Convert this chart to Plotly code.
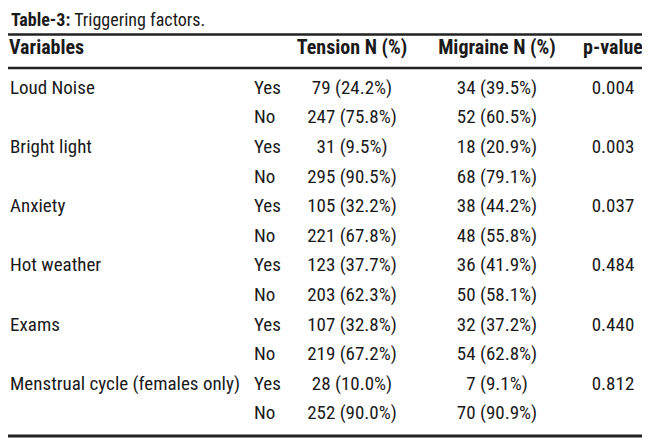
import plotly.graph_objects as go

# Table-3: Triggering factors
variables = ["Loud Noise", "Bright light", "Anxiety", "Hot weather", "Exams",
             "Menstrual cycle (females only)"]
answers = ["Yes", "No"]

tension_yes_n = [79, 31, 105, 123, 107, 28]
tension_yes_pct = [24.2, 9.5, 32.2, 37.7, 32.8, 10.0]
tension_no_n = [247, 295, 221, 203, 219, 252]
tension_no_pct = [75.8, 90.5, 67.8, 62.3, 67.2, 90.0]

migraine_yes_n = [34, 18, 38, 36, 32, 7]
migraine_yes_pct = [39.5, 20.9, 44.2, 41.9, 37.2, 9.1]
migraine_no_n = [52, 68, 48, 50, 54, 70]
migraine_no_pct = [60.5, 79.1, 55.8, 58.1, 62.8, 90.9]

p_values = ["0.004", "0.003", "0.037", "0.484", "0.440", "0.812"]

headers = ["Variables", "Tension N (%)", "Migraine N (%)", "p-value"]

FONT = "Roboto Condensed, DejaVu Sans Condensed, sans-serif"
FS = 19
COL = "#1a1a1a"

# layout in pixel units of the picture
col_var, col_ans, col_ten, col_mig, col_p = 10, 254, 352, 497, 613
header_y = 49
row0, row_step = 89, 29.6


def cell(n, p):
    return "%d (%.1f%%)" % (n, p)


var_txt, ans_txt, ten_txt, mig_txt, p_txt, ys = [], [], [], [], [], []
for i, v in enumerate(variables):
    y_yes = row0 + row_step * 2 * i
    y_no = y_yes + row_step
    ys += [y_yes, y_no]
    var_txt += [v, ""]
    ans_txt += answers
    ten_txt += [cell(tension_yes_n[i], tension_yes_pct[i]),
                cell(tension_no_n[i], tension_no_pct[i])]
    mig_txt += [cell(migraine_yes_n[i], migraine_yes_pct[i]),
                cell(migraine_no_n[i], migraine_no_pct[i])]
    p_txt += [p_values[i], ""]

fig = go.Figure()


def add_col(x, texts, ypos, pos):
    fig.add_trace(go.Scatter(
        x=[x] * len(texts), y=ypos, text=texts, mode="text",
        textposition=pos, textfont=dict(family=FONT, size=FS, color=COL),
        cliponaxis=False, hoverinfo="skip", showlegend=False))


add_col(col_var, var_txt, ys, "middle right")
add_col(col_ans, ans_txt, ys, "middle right")
add_col(col_ten, ten_txt, ys, "middle center")
add_col(col_mig, mig_txt, ys, "middle center")
add_col(col_p, p_txt, ys, "middle center")

# header row
fig.add_trace(go.Scatter(
    x=[col_var - 1, col_ten, col_mig, col_p], y=[header_y] * 4,
    text=["<b>%s</b>" % h for h in headers], mode="text",
    textposition=["middle right", "middle center", "middle center", "middle center"],
    textfont=dict(family=FONT, size=20, color=COL),
    cliponaxis=False, hoverinfo="skip", showlegend=False))

# rules
for y, w in [(34.5, 2.5), (68, 2.5), (436, 3)]:
    fig.add_shape(type="line", x0=8, x1=658, y0=y, y1=y,
                  line=dict(color="#222222", width=w))

fig.add_annotation(x=9, y=19, xanchor="left", yanchor="middle", showarrow=False,
                   text="<b>Table-3:</b> Triggering factors.",
                   font=dict(family=FONT, size=18, color=COL))

# page body adds an 8px offset, so the axes start at 8
fig.update_layout(
    width=650, height=442,
    margin=dict(l=0, r=0, t=0, b=0),
    paper_bgcolor="white", plot_bgcolor="white",
    xaxis=dict(range=[8, 658], visible=False, fixedrange=True),
    yaxis=dict(range=[450, 8], visible=False, fixedrange=True),
)

fig.write_html("out.html")
